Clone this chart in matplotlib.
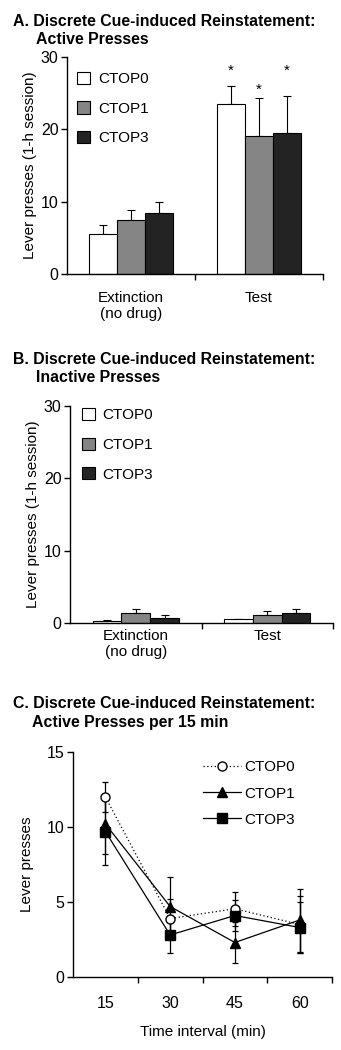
import matplotlib
matplotlib.use("Agg")
import matplotlib.pyplot as plt
from matplotlib.patches import Patch
from matplotlib.lines import Line2D
import numpy as np

plt.rcParams['font.family'] = ['Liberation Sans', 'DejaVu Sans']

groups = ["CTOP0", "CTOP1", "CTOP3"]
bar_colors = ["#ffffff", "#858585", "#232323"]
phases = ["Extinction\n(no drug)", "Test"]

# panel A: active presses (mean, SEM)
active_mean = [[5.5, 23.5], [7.5, 19.1], [8.4, 19.5]]
active_sem = [[1.3, 2.5], [1.4, 5.2], [1.5, 5.1]]
star_y = [28.1, 25.4, 28.1]

# panel B: inactive presses
inactive_mean = [[0.28, 0.5], [1.38, 1.15], [0.74, 1.38]]
inactive_sem = [[0.09, 0.05], [0.62, 0.45], [0.36, 0.62]]

# panel C: active presses per 15 min
intervals = ["15", "30", "45", "60"]
c_mean = {
    "CTOP0": [12.0, 3.9, 4.55, 3.5],
    "CTOP1": [10.2, 4.7, 2.3, 3.8],
    "CTOP3": [9.7, 2.8, 4.1, 3.3],
}
c_sem = {
    "CTOP0": [1.0, 1.3, 1.15, 1.9],
    "CTOP1": [2.0, 2.0, 1.35, 2.1],
    "CTOP3": [2.25, 1.2, 1.05, 1.7],
}

W, H = 341, 1050
fig = plt.figure(figsize=(W / 100, H / 100), dpi=100)

TICK_FS = 11.5
LAB_FS = 11
TITLE_FS = 11.4


def px_axes(x0, x1, ytop, ybot):
    return fig.add_axes([x0 / W, 1 - ybot / H, (x1 - x0) / W, (ybot - ytop) / H])


def style_axes(ax):
    for s in ["top", "right"]:
        ax.spines[s].set_visible(False)
    for s in ["left", "bottom"]:
        ax.spines[s].set_linewidth(1.0)
    ax.tick_params(axis="both", which="major", direction="out", length=4,
                   width=1.0, labelsize=TICK_FS, pad=2)


def bar_panel(ax, means, sems, label_pad, leg_anchor):
    n = len(groups)
    width = 0.219
    x = np.arange(1, len(phases) + 1)
    for i in range(n):
        pos = x + (i - 1) * width
        ax.bar(pos, means[i], width, color=bar_colors[i], edgecolor="black",
               linewidth=0.8, zorder=2)
        ax.errorbar(pos, means[i], yerr=[np.zeros(len(phases)), sems[i]],
                    fmt="none", ecolor="black", elinewidth=0.8, capsize=3,
                    capthick=0.8, zorder=1)
    ax.set_xlim(0.5, len(phases) + 0.5)
    ax.set_ylim(0, 30)
    ax.set_yticks([0, 10, 20, 30])
    ax.set_xticks(np.arange(1.5, len(phases) + 0.6, 1.0))
    ax.set_xticklabels([])
    ax.set_xticks(x, minor=True)
    ax.set_xticklabels(phases, minor=True)
    ax.tick_params(axis="x", which="minor", length=0, labelsize=LAB_FS, pad=label_pad)
    ax.set_ylabel("Lever presses (1-h session)", fontsize=LAB_FS, labelpad=3)
    handles = [Patch(facecolor=c, edgecolor="black", linewidth=0.8) for c in bar_colors]
    ax.legend(handles, groups, loc="upper left", bbox_to_anchor=leg_anchor,
              frameon=False, fontsize=LAB_FS, handlelength=0.85, handleheight=0.85,
              labelspacing=1.0, handletextpad=0.5, borderpad=0, borderaxespad=0)
    return x, width


# panel A
axA = px_axes(67, 323, 57, 274)
style_axes(axA)
xA, wA = bar_panel(axA, active_mean, active_sem, 12, (0.04, 0.932))
for i in range(len(groups)):
    axA.text(xA[1] + (i - 1) * wA, star_y[i], "*", ha="center", va="center",
             fontsize=11)
fig.text(13 / W, 1 - 21 / H, "A. Discrete Cue-induced Reinstatement:",
         fontsize=TITLE_FS, fontweight="bold", va="center", ha="left")
fig.text(36 / W, 1 - 40 / H, "Active Presses",
         fontsize=TITLE_FS, fontweight="bold", va="center", ha="left")

# panel B
axB = px_axes(70, 333, 406, 623)
style_axes(axB)
bar_panel(axB, inactive_mean, inactive_sem, 4, (0.045, 0.991))
fig.text(13 / W, 1 - 360 / H, "B. Discrete Cue-induced Reinstatement:",
         fontsize=TITLE_FS, fontweight="bold", va="center", ha="left")
fig.text(36 / W, 1 - 377 / H, "Inactive Presses",
         fontsize=TITLE_FS, fontweight="bold", va="center", ha="left")

# panel C
axC = px_axes(73, 332, 752, 977)
style_axes(axC)
xc = np.arange(1, len(intervals) + 1)
styles = {
    "CTOP0": dict(marker="o", mfc="white", ls=(0, (1, 2))),
    "CTOP1": dict(marker="^", mfc="black", ls="-"),
    "CTOP3": dict(marker="s", mfc="black", ls="-"),
}
handles = []
for g in groups:
    st = styles[g]
    axC.errorbar(xc, c_mean[g], yerr=c_sem[g], color="black", lw=0.9,
                 ls=st["ls"], marker=st["marker"], mfc=st["mfc"], mec="black",
                 ms=6.5, capsize=2.5, elinewidth=0.9, capthick=0.9)
    handles.append(Line2D([], [], color="black", lw=0.9, ls=st["ls"],
                          marker=st["marker"], mfc=st["mfc"], mec="black", ms=6.5))
axC.set_xlim(0.5, len(intervals) + 0.5)
axC.set_ylim(0, 15)
axC.set_yticks([0, 5, 10, 15])
axC.set_xticks(np.arange(1.5, len(intervals) + 0.6, 1.0))
axC.set_xticklabels([])
axC.set_xticks(xc, minor=True)
axC.set_xticklabels(intervals, minor=True)
axC.tick_params(axis="x", which="minor", length=0, labelsize=TICK_FS, pad=14)
axC.set_ylabel("Lever presses", fontsize=LAB_FS, labelpad=9)
axC.set_xlabel("Time interval (min)", fontsize=LAB_FS, labelpad=10)
axC.legend(handles, groups, loc="upper left", bbox_to_anchor=(0.50, 0.963),
           frameon=False, fontsize=LAB_FS, handlelength=2.55, labelspacing=0.8,
           handletextpad=0.2, borderpad=0, borderaxespad=0)
fig.text(13 / W, 1 - 703 / H, "C. Discrete Cue-induced Reinstatement:",
         fontsize=TITLE_FS, fontweight="bold", va="center", ha="left")
fig.text(32 / W, 1 - 723 / H, "Active Presses per 15 min",
         fontsize=TITLE_FS, fontweight="bold", va="center", ha="left")

fig.savefig("out.png", dpi=100)
